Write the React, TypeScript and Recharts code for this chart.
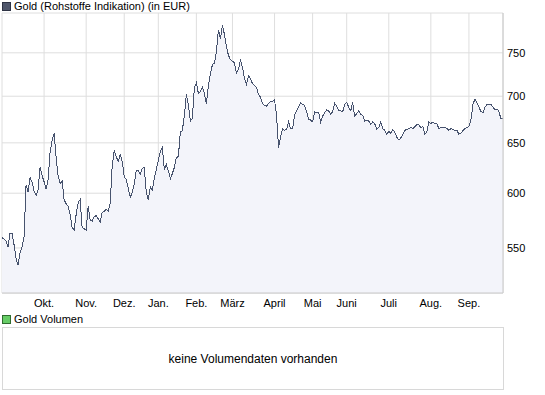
import { ComposedChart, Area, XAxis, YAxis, CartesianGrid } from "recharts"

// daily gold price in EUR, Sep 2008 - Sep 2009
const prices = [
  559, 558, 556, 551, 563, 563, 553, 541, 535, 546, 551, 560, 608, 601, 615, 611, 602, 598, 603, 625,
  617, 611, 604, 613, 641, 652, 660, 635, 617, 609, 612, 594, 590, 588, 580, 568, 566, 580, 591, 594,
  568, 567, 566, 588, 575, 574, 578, 579, 576, 573, 582, 583, 585, 583, 591, 627, 642, 636, 631, 638,
  631, 616, 613, 605, 596, 601, 609, 622, 622, 618, 624, 625, 601, 594, 606, 603, 614, 623, 632, 641,
  645, 623, 628, 622, 614, 619, 625, 635, 636, 661, 663, 679, 702, 690, 673, 676, 710, 715, 703, 705,
  710, 703, 692, 712, 726, 736, 738, 751, 778, 767, 784, 772, 757, 747, 742, 740, 738, 726, 731, 741,
  733, 720, 713, 723, 720, 714, 712, 710, 702, 699, 692, 690, 689, 692, 694, 694, 696, 679, 645, 656,
  665, 663, 664, 672, 665, 665, 679, 684, 688, 693, 691, 690, 683, 675, 674, 672, 683, 682, 682, 672,
  678, 682, 685, 684, 680, 683, 692, 689, 684, 684, 683, 691, 693, 688, 684, 693, 678, 681, 684, 680,
  679, 673, 674, 673, 669, 672, 670, 664, 666, 672, 665, 663, 659, 662, 660, 664, 661, 656, 653, 655,
  659, 663, 664, 665, 666, 665, 667, 669, 669, 666, 667, 659, 661, 672, 670, 672, 670, 670, 665, 666,
  666, 666, 665, 663, 665, 664, 663, 663, 659, 660, 663, 665, 666, 667, 674, 691, 697, 693, 688, 683,
  682, 688, 691, 691, 691, 688, 685, 686, 683, 675, 676,
]

const monthTicks = [21, 42, 61, 78, 97, 115, 136, 155, 172, 193, 214, 233]
const monthLabels = ["Okt.", "Nov.", "Dez.", "Jan.", "Feb.", "März", "April", "Mai", "Juni", "Juli", "Aug.", "Sep."]
const priceTicks = [550, 600, 650, 700, 750]

const data = prices.map((v, i) => ({ i, v }))

const font = "'Liberation Sans', Arial, sans-serif"
const border = "#c8c8c8"

function Swatch({ color, edge }: { color: string; edge: string }) {
  return (
    <span
      style={{
        display: "inline-block",
        width: 7,
        height: 7,
        background: color,
        border: `1px solid ${edge}`,
        marginRight: 3,
      }}
    />
  )
}

export default function App() {
  return (
    <div
      style={{
        position: "absolute",
        left: 0,
        top: 0,
        width: 545,
        height: 395,
        background: "#fff",
        fontFamily: font,
        color: "#000",
      }}
    >
      <div style={{ position: "absolute", left: 2, top: 0, fontSize: 11, lineHeight: "12px", display: "flex", alignItems: "center" }}>
        <Swatch color="#4f566b" edge="#2e3344" />
        Gold (Rohstoffe Indikation) (in EUR)
      </div>

      <ComposedChart width={545} height={313} data={data} margin={{ top: 13, right: 0, bottom: 0, left: 2 }}>
        <CartesianGrid stroke="#dedede" ticks={priceTicks} />
        <XAxis
          dataKey="i"
          type="number"
          domain={[0, prices.length - 1]}
          ticks={monthTicks}
          tickFormatter={(t: number) => monthLabels[monthTicks.indexOf(t)]}
          interval={0}
          height={20}
          tickLine={false}
          tickSize={4}
          tickMargin={2}
          axisLine={{ stroke: border }}
          tick={{ fontSize: 11, fill: "#000", fontFamily: font }}
        />
        <XAxis xAxisId="top" orientation="top" type="number" domain={[0, 1]} height={0} tick={false} tickLine={false} axisLine={{ stroke: border }} />
        <YAxis
          dataKey="v"
          orientation="right"
          scale="log"
          type="number"
          domain={[512, 799]}
          allowDataOverflow
          ticks={priceTicks}
          interval={0}
          width={42}
          tickLine={false}
          tickSize={2}
          tickMargin={2}
          axisLine={{ stroke: border }}
          tick={{ fontSize: 11, fill: "#000", fontFamily: font, textAnchor: "start" }}
        />
        <YAxis yAxisId="left" orientation="left" type="number" domain={[0, 1]} width={0} tick={false} tickLine={false} axisLine={{ stroke: border }} />
        <Area
          type="linear"
          dataKey="v"
          stroke="#47536e"
          strokeWidth={1}
          fill="#f3f4fa"
          fillOpacity={1}
          baseValue="dataMin"
          shapeRendering="crispEdges"
          dot={false}
          activeDot={false}
          isAnimationActive={false}
        />
      </ComposedChart>

      <div style={{ position: "absolute", left: 2, top: 313, fontSize: 11, lineHeight: "12px", display: "flex", alignItems: "center" }}>
        <Swatch color="#66cc66" edge="#2f6b2f" />
        Gold Volumen
      </div>
      <div
        style={{
          position: "absolute",
          left: 2,
          top: 327,
          width: 500,
          height: 61,
          border: "1px solid #d8d8d8",
          display: "flex",
          alignItems: "center",
          justifyContent: "center",
          fontSize: 12,
        }}
      >
        keine Volumendaten vorhanden
      </div>
    </div>
  )
}
